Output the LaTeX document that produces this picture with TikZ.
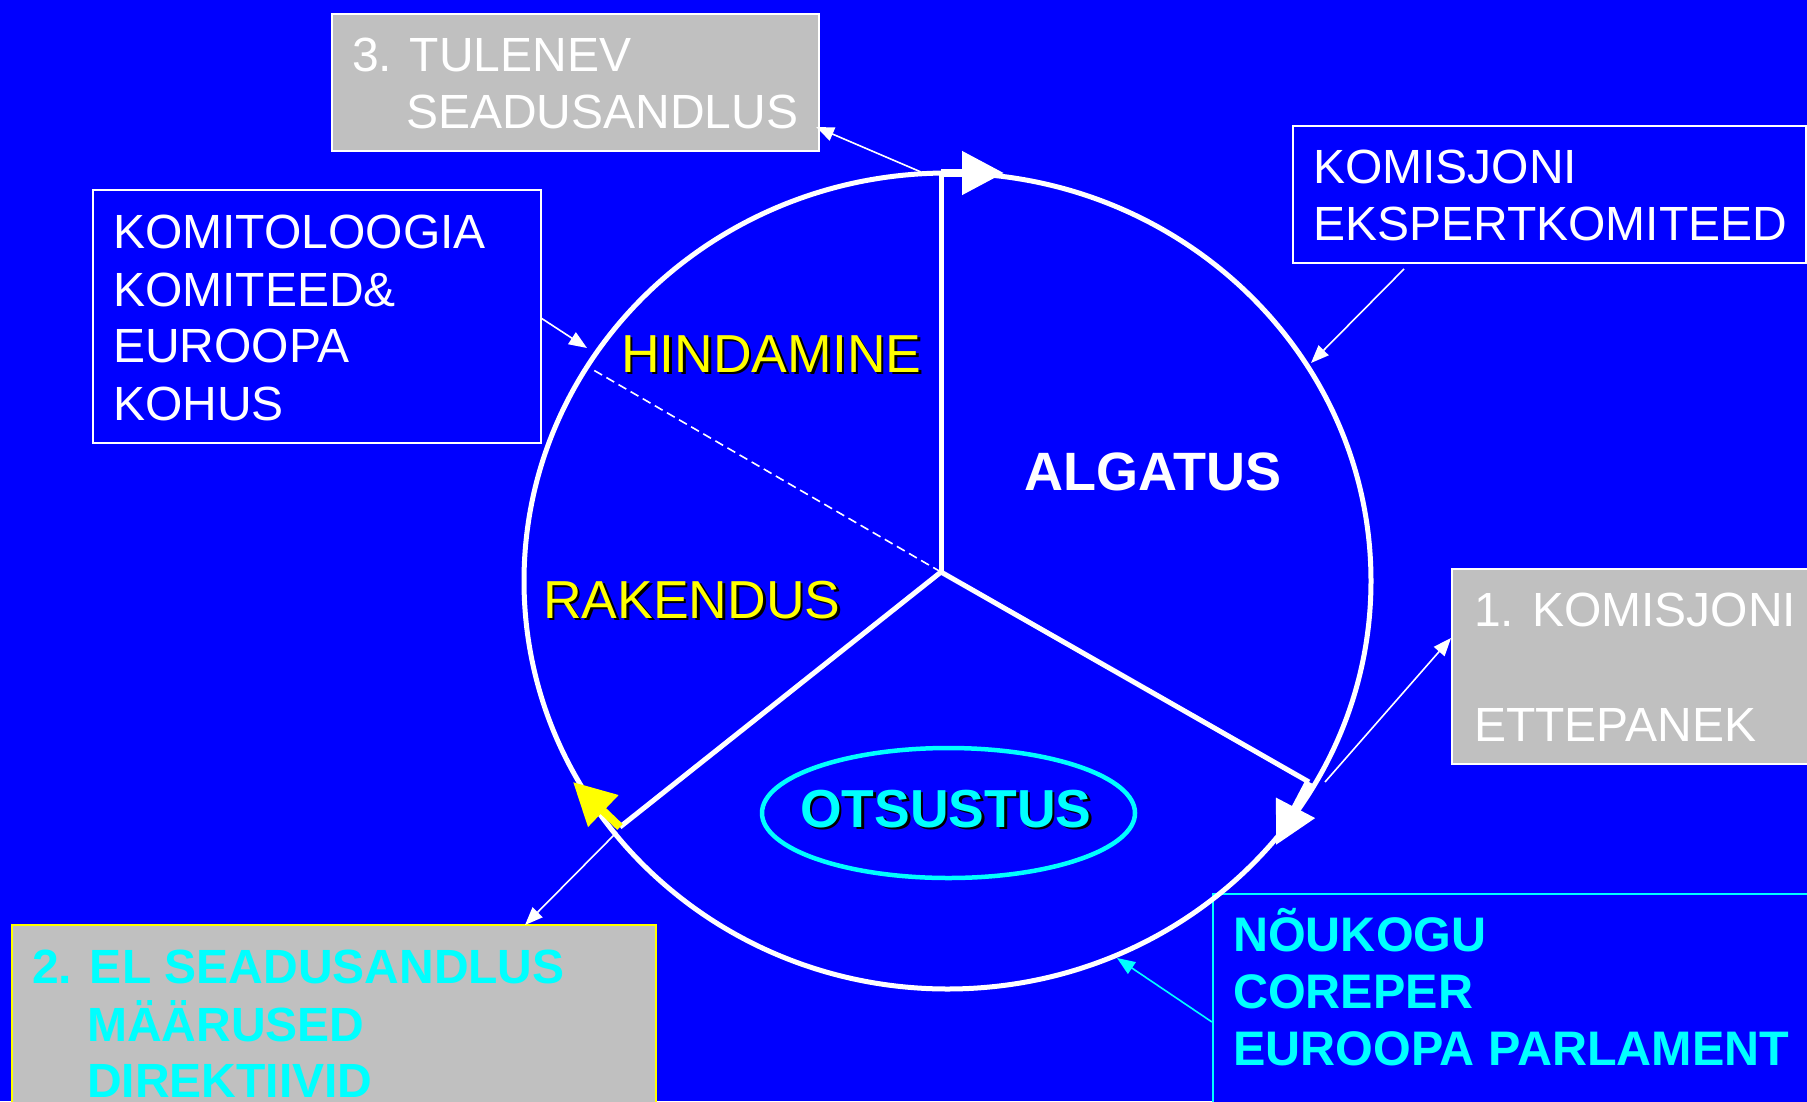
\documentclass[tikz,border=0pt]{standalone}
\usepackage{fontspec}
\setmainfont{Liberation Sans}
\usetikzlibrary{arrows.meta,shapes.geometric}
\definecolor{bg}{HTML}{0000FF}
\definecolor{gr}{HTML}{C0C0C0}
\definecolor{cy}{HTML}{00FFFF}
\definecolor{ye}{HTML}{FFFF00}
\newcommand\shadowtxt[1]{\makebox[0pt][l]{\hspace{2.5bp}\raisebox{-2.5bp}{\color{black}#1}}#1}
\begin{document}
\begin{tikzpicture}[x=1bp,y=-1bp,
  txt/.style={anchor=base west, inner sep=0pt, text=white, font=\fontsize{48bp}{56bp}\selectfont},
  btxt/.style={anchor=base west, inner sep=0pt, text=cy, font=\fontsize{48.5bp}{56bp}\selectfont\bfseries},
  ctxt/.style={anchor=base west, inner sep=0pt, text=cy, font=\fontsize{48bp}{56bp}\selectfont\bfseries},
  lbl/.style={anchor=base west, inner sep=0pt, font=\fontsize{53.5bp}{60bp}\selectfont},
  box/.style={anchor=north west, inner sep=0pt, line width=1.5bp},
  spoke/.style={white, line width=5bp},
  bigarrow/.style={line width=8bp, -{Triangle[length=42bp,width=42bp]}},
  note/.style={line width=1.6bp, -{Triangle[length=18bp,width=14bp]}}]
\useasboundingbox (0,0) rectangle (1807,1101);
\clip (0,0) rectangle (1807,1101);
\fill[bg] (0,0) rectangle (1807,1101);

% boxes
\node[box, draw=white, fill=gr, minimum width=487bp, minimum height=137bp] (b3) at (331,13) {};
\node[box, draw=white, fill=bg, minimum width=448bp, minimum height=253bp] (bkt) at (92,189) {};
\node[box, draw=white, fill=bg, minimum width=513bp, minimum height=137bp] (bke) at (1292,125) {};
\node[box, draw=white, fill=gr, minimum width=380bp, minimum height=195bp] (b1) at (1451,568) {};
\node[box, draw=ye, fill=gr, minimum width=644bp, minimum height=260bp] (b2) at (11,924) {};
\node[box, draw=cy, fill=bg, minimum width=650bp, minimum height=300bp] (bn) at (1212,893) {};

% box texts
\node[txt] (t3a) at (352,71) {3. TULENEV};
\node[txt] (t3b) at (406,128) {SEADUSANDLUS};
\node[txt] (tk1) at (113,248) {KOMITOLOOGIA};
\node[txt] (tk2) at (113,306) {KOMITEED\&};
\node[txt] (tk3) at (113,362) {EUROOPA};
\node[txt] (tk4) at (113,420) {KOHUS};
\node[txt] (te1) at (1313,183) {KOMISJONI};
\node[txt] (te2) at (1313,240) {EKSPERTKOMITEED};
\node[txt] (t1a) at (1474,626) {1. KOMISJONI};
\node[txt] (t1b) at (1474,741) {ETTEPANEK};
\node[ctxt] (t2a) at (32,983) {2. EL SEADUSANDLUS};
\node[ctxt] (t2b) at (87,1041) {MÄÄRUSED};
\node[ctxt] (t2c) at (87,1097) {DIREKTIIVID};
\node[btxt] (tn1) at (1233,951) {NÕUKOGU};
\node[btxt] (tn2) at (1233,1008) {COREPER};
\node[btxt] (tn3) at (1233,1065) {EUROOPA PARLAMENT};

% cycle geometry
\coordinate (ctr) at (941,572);
\coordinate (ptop) at (941,173);
\coordinate (toptip) at (1004,173);
\coordinate (prt) at (1309,782);
\coordinate (rtip) at (1276,845);
\coordinate (plf) at (620,827);
\coordinate (ytip) at (573,782);
\coordinate (dsh) at (590,368);

\draw[white, line width=5bp] (947.5,581) ellipse [x radius=423.5, y radius=408];
\draw[white, line width=1.6bp, dash pattern=on 9bp off 5bp] (ctr) -- (dsh);
\draw[spoke] (ctr) -- (ptop);
\draw[spoke] (ctr) -- (prt);
\draw[spoke] (ctr) -- (plf);
\draw[bigarrow, white] (ptop) -- (toptip);
\draw[bigarrow, white] (prt) -- (rtip);
\draw[bigarrow, ye] (plf) -- (ytip);

% annotation arrows
\coordinate (a1s) at (921,172);
\coordinate (a1t) at (816,127);
\coordinate (a2s) at (541,318);
\coordinate (a2t) at (587,348);
\coordinate (a3s) at (1404,269);
\coordinate (a3t) at (1311,363);
\coordinate (a4s) at (1325,782);
\coordinate (a4t) at (1451,638);
\coordinate (a5s) at (617,832);
\coordinate (a5t) at (525,925);
\coordinate (a6s) at (1212,1022);
\coordinate (a6t) at (1117,958);
\draw[note, white] (a1s) -- (a1t);
\draw[note, white] (a2s) -- (a2t);
\draw[note, white] (a3s) -- (a3t);
\draw[note, white] (a4s) -- (a4t);
\draw[note, white] (a5s) -- (a5t);
\draw[note, cy] (a6s) -- (a6t);

% labels
\node[lbl, text=ye] (hind) at (621,372) {\shadowtxt{HINDAMINE}};
\node[lbl, text=ye] (rak) at (543,618) {\shadowtxt{RAKENDUS}};
\node[lbl, text=white, font=\fontsize{54bp}{60bp}\selectfont\bfseries] (alg) at (1024,490) {ALGATUS};
\node[draw=cy, line width=4.5bp, ellipse, minimum width=373bp, minimum height=130bp, inner sep=0pt] (ots) at (948.5,813) {};
\node[lbl, text=cy, font=\fontsize{53.5bp}{60bp}\selectfont\bfseries] (otst) at (800,827) {\shadowtxt{OTSUSTUS}};
\end{tikzpicture}
\end{document}
